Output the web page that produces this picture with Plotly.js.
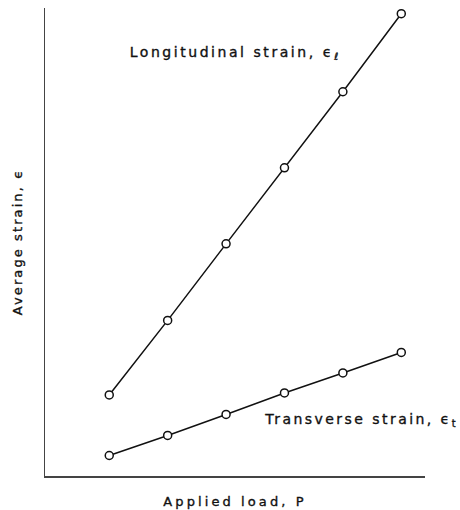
<!DOCTYPE html>
<html>
<head>
<meta charset="utf-8">
<script src="https://cdn.plot.ly/plotly-3.0.1.min.js"></script>
<style>
  html, body { margin: 0; padding: 0; background: #fff; }
  #chart { width: 460px; height: 510px; }
  #chart g.annotation text, #chart .g-xtitle text, #chart .g-ytitle text { stroke: #111; stroke-width: 0.35px; }
  #chart g.annotation[data-index="0"] text { letter-spacing: 2.55px; }
  #chart g.annotation[data-index="1"] text { letter-spacing: 2.45px; }
  #chart .g-xtitle text { letter-spacing: 3.1px; }
  #chart .g-ytitle text { letter-spacing: 2.1px; }
</style>
</head>
<body>
<div id="chart"></div>
<script>
// Applied load steps (arbitrary units, equally spaced)
const loadSteps = [1, 2, 3, 4, 5, 6];
// Average strain (arbitrary units)
const longitudinalStrain = [0.81, 1.555, 2.32, 3.08, 3.84, 4.62];
const transverseStrain = [0.205, 0.405, 0.615, 0.83, 1.03, 1.235];
// Labels
const longLabel = 'Longitudinal strain, ϵ<sub>ℓ</sub>';
const transLabel = 'Transverse strain, ϵ<sub>t</sub>';
const xTitle = 'Applied load, P';
const yTitle = 'Average strain, ϵ';

const FONT = 'DejaVu Sans, Liberation Sans, sans-serif';

const markerStyle = { symbol: 'circle', size: 8, color: '#ffffff', line: { color: '#111', width: 1.5 } };
const lineStyle = { color: '#111', width: 1.5 };

const traces = [
  { x: loadSteps, y: longitudinalStrain, mode: 'lines+markers', line: lineStyle, marker: markerStyle, showlegend: false, hoverinfo: 'skip' },
  { x: loadSteps, y: transverseStrain, mode: 'lines+markers', line: lineStyle, marker: markerStyle, showlegend: false, hoverinfo: 'skip' }
];

const layout = {
  width: 460, height: 510,
  margin: { l: 45, r: 35, t: 8, b: 34 },
  paper_bgcolor: '#fff', plot_bgcolor: '#fff',
  font: { family: FONT, color: '#111', size: 12 },
  xaxis: {
    range: [-0.1, 6.406], showgrid: false, zeroline: false, showticklabels: false, ticks: '',
    showline: true, linecolor: '#444', linewidth: 1.5, fixedrange: true,
    title: { text: xTitle, font: { family: FONT, size: 13, color: '#111' }, standoff: 20 }
  },
  yaxis: {
    range: [0, 4.677], showgrid: false, zeroline: false, showticklabels: false, ticks: '',
    showline: true, linecolor: '#444', linewidth: 1.5, fixedrange: true,
    title: { text: yTitle, font: { family: FONT, size: 13, color: '#111' }, standoff: 18 }
  },
  annotations: [
    { x: 3.156, y: 4.225, xref: 'x', yref: 'y', xanchor: 'center', yanchor: 'middle', showarrow: false,
      text: longLabel, font: { family: FONT, size: 14, color: '#111' } },
    { x: 5.315, y: 0.555, xref: 'x', yref: 'y', xanchor: 'center', yanchor: 'middle', showarrow: false,
      text: transLabel, font: { family: FONT, size: 14, color: '#111' } }
  ]
};

Plotly.newPlot('chart', traces, layout, { displayModeBar: false, staticPlot: true });
</script>
</body>
</html>
